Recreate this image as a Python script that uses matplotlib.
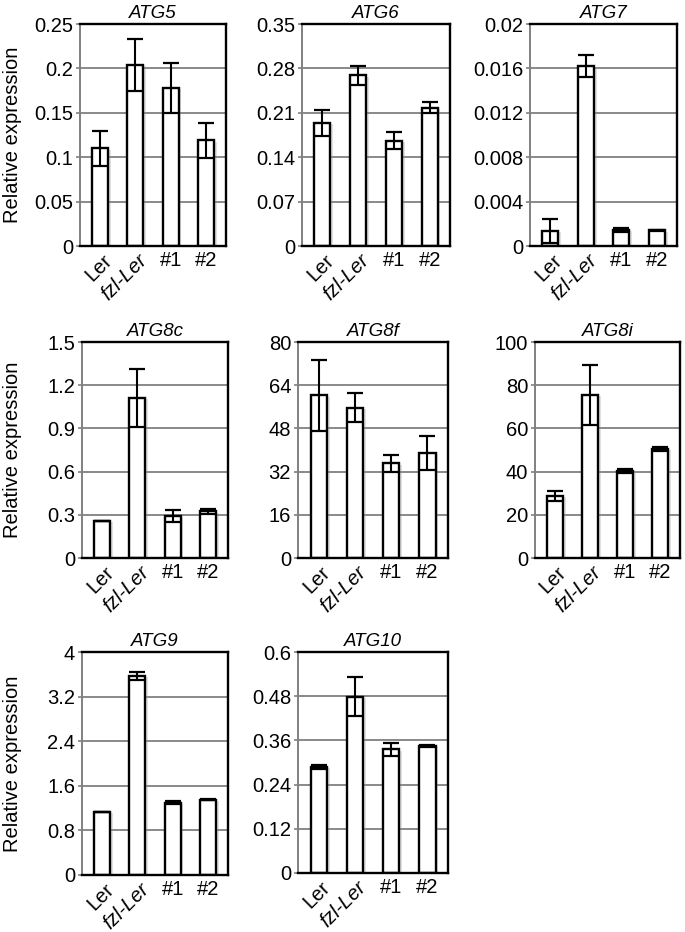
import matplotlib
matplotlib.use("Agg")
import matplotlib.pyplot as plt
import matplotlib.patheffects as pe
from matplotlib.ticker import FixedLocator

plt.rcParams['font.family'] = ['Liberation Sans', 'DejaVu Sans']

categories = ["Ler", "fzl-Ler", "#1", "#2"]
genes = ["ATG5", "ATG6", "ATG7", "ATG8c", "ATG8f", "ATG8i", "ATG9", "ATG10"]

atg5_vals = [0.110, 0.204, 0.178, 0.119]
atg5_err = [0.020, 0.029, 0.028, 0.020]
atg6_vals = [0.194, 0.269, 0.166, 0.218]
atg6_err = [0.020, 0.015, 0.013, 0.009]
atg7_vals = [0.00135, 0.0162, 0.00144, 0.0014]
atg7_err = [0.0011, 0.0010, 0.0002, 0.00005]
atg8c_vals = [0.257, 1.111, 0.289, 0.324]
atg8c_err = [0.0, 0.20, 0.042, 0.018]
atg8f_vals = [60.2, 55.7, 35.1, 38.9]
atg8f_err = [13.0, 5.4, 3.2, 6.2]
atg8i_vals = [28.7, 75.5, 40.3, 50.6]
atg8i_err = [2.2, 14.0, 1.0, 1.0]
atg9_vals = [1.13, 3.57, 1.30, 1.35]
atg9_err = [0.0, 0.07, 0.02, 0.01]
atg10_vals = [0.288, 0.479, 0.336, 0.345]
atg10_err = [0.005, 0.052, 0.018, 0.003]

atg5_ticks = ["0", "0.05", "0.1", "0.15", "0.2", "0.25"]
atg6_ticks = ["0", "0.07", "0.14", "0.21", "0.28", "0.35"]
atg7_ticks = ["0", "0.004", "0.008", "0.012", "0.016", "0.02"]
atg8c_ticks = ["0", "0.3", "0.6", "0.9", "1.2", "1.5"]
atg8f_ticks = ["0", "16", "32", "48", "64", "80"]
atg8i_ticks = ["0", "20", "40", "60", "80", "100"]
atg9_ticks = ["0", "0.8", "1.6", "2.4", "3.2", "4"]
atg10_ticks = ["0", "0.12", "0.24", "0.36", "0.48", "0.6"]

values = [atg5_vals, atg6_vals, atg7_vals, atg8c_vals, atg8f_vals, atg8i_vals, atg9_vals, atg10_vals]
errors = [atg5_err, atg6_err, atg7_err, atg8c_err, atg8f_err, atg8i_err, atg9_err, atg10_err]
ticklabels = [atg5_ticks, atg6_ticks, atg7_ticks, atg8c_ticks, atg8f_ticks, atg8i_ticks, atg9_ticks, atg10_ticks]

W, H = 685, 932
# pixel rects: left, top, right, bottom
rects = [(80, 24, 226, 246), (302, 24, 450, 246), (530, 24, 677, 246),
         (82, 342, 228, 558), (298, 342, 448, 558), (535, 342, 680, 558),
         (82, 652, 228, 875), (298, 652, 448, 873)]

FS = 14.5

fig = plt.figure(figsize=(W / 100, H / 100), dpi=100)

for i, gene in enumerate(genes):
    l, t, r, b = rects[i]
    ax = fig.add_axes([l / W, 1 - b / H, (r - l) / W, (b - t) / H])
    tl = ticklabels[i]
    tv = [float(s) for s in tl]
    ax.set_ylim(tv[0], tv[-1])
    ax.set_xlim(-0.57, 3.57)
    ax.yaxis.set_major_locator(FixedLocator(tv))
    ax.set_yticklabels(tl, fontsize=FS)
    for y in tv[1:-1]:
        ax.axhline(y, color='#808080', lw=1.3, zorder=0)
    x = list(range(len(categories)))
    bars = ax.bar(x, values[i], width=0.45, color='white', edgecolor='black',
                  linewidth=1.7, zorder=2)
    for bar in bars:
        bar.set_path_effects([pe.SimplePatchShadow(offset=(2.0, -1.0), shadow_rgbFace='#999999', alpha=0.3),
                              pe.Normal()])
    ax.errorbar(x, values[i], yerr=errors[i], fmt='none', ecolor='black',
                elinewidth=1.5, capsize=5.6, capthick=1.6, zorder=3)
    for s in ['top', 'right', 'bottom']:
        ax.spines[s].set_color('black')
        ax.spines[s].set_linewidth(1.7)
    ax.spines['left'].set_color('#808080')
    ax.spines['left'].set_linewidth(1.4)
    ax.tick_params(axis='y', length=3, width=1.2, color='#808080', pad=2)
    ax.tick_params(axis='x', length=0)
    ax.set_xticks([])
    ax.set_title(gene, fontsize=13.5, style='italic', pad=4)
    # x labels
    trans = ax.get_xaxis_transform()
    ax.text(0 + 0.05, -0.022, "Ler", transform=trans, rotation=45, ha='right', va='top',
            rotation_mode='anchor', fontsize=FS)
    ax.text(1 + 0.05, -0.022, "fzl-Ler", transform=trans, rotation=45, ha='right', va='top',
            rotation_mode='anchor', fontsize=FS, style='italic')
    ax.text(2, -0.022, "#1", transform=trans, ha='center', va='top', fontsize=FS)
    ax.text(3, -0.022, "#2", transform=trans, ha='center', va='top', fontsize=FS)
    if i in (0, 3, 6):
        fig.text(12.5 / W, 1 - ((t + b) / 2) / H, "Relative expression", rotation=90,
                 ha='center', va='center', fontsize=FS)

fig.savefig("out.png", dpi=100)
